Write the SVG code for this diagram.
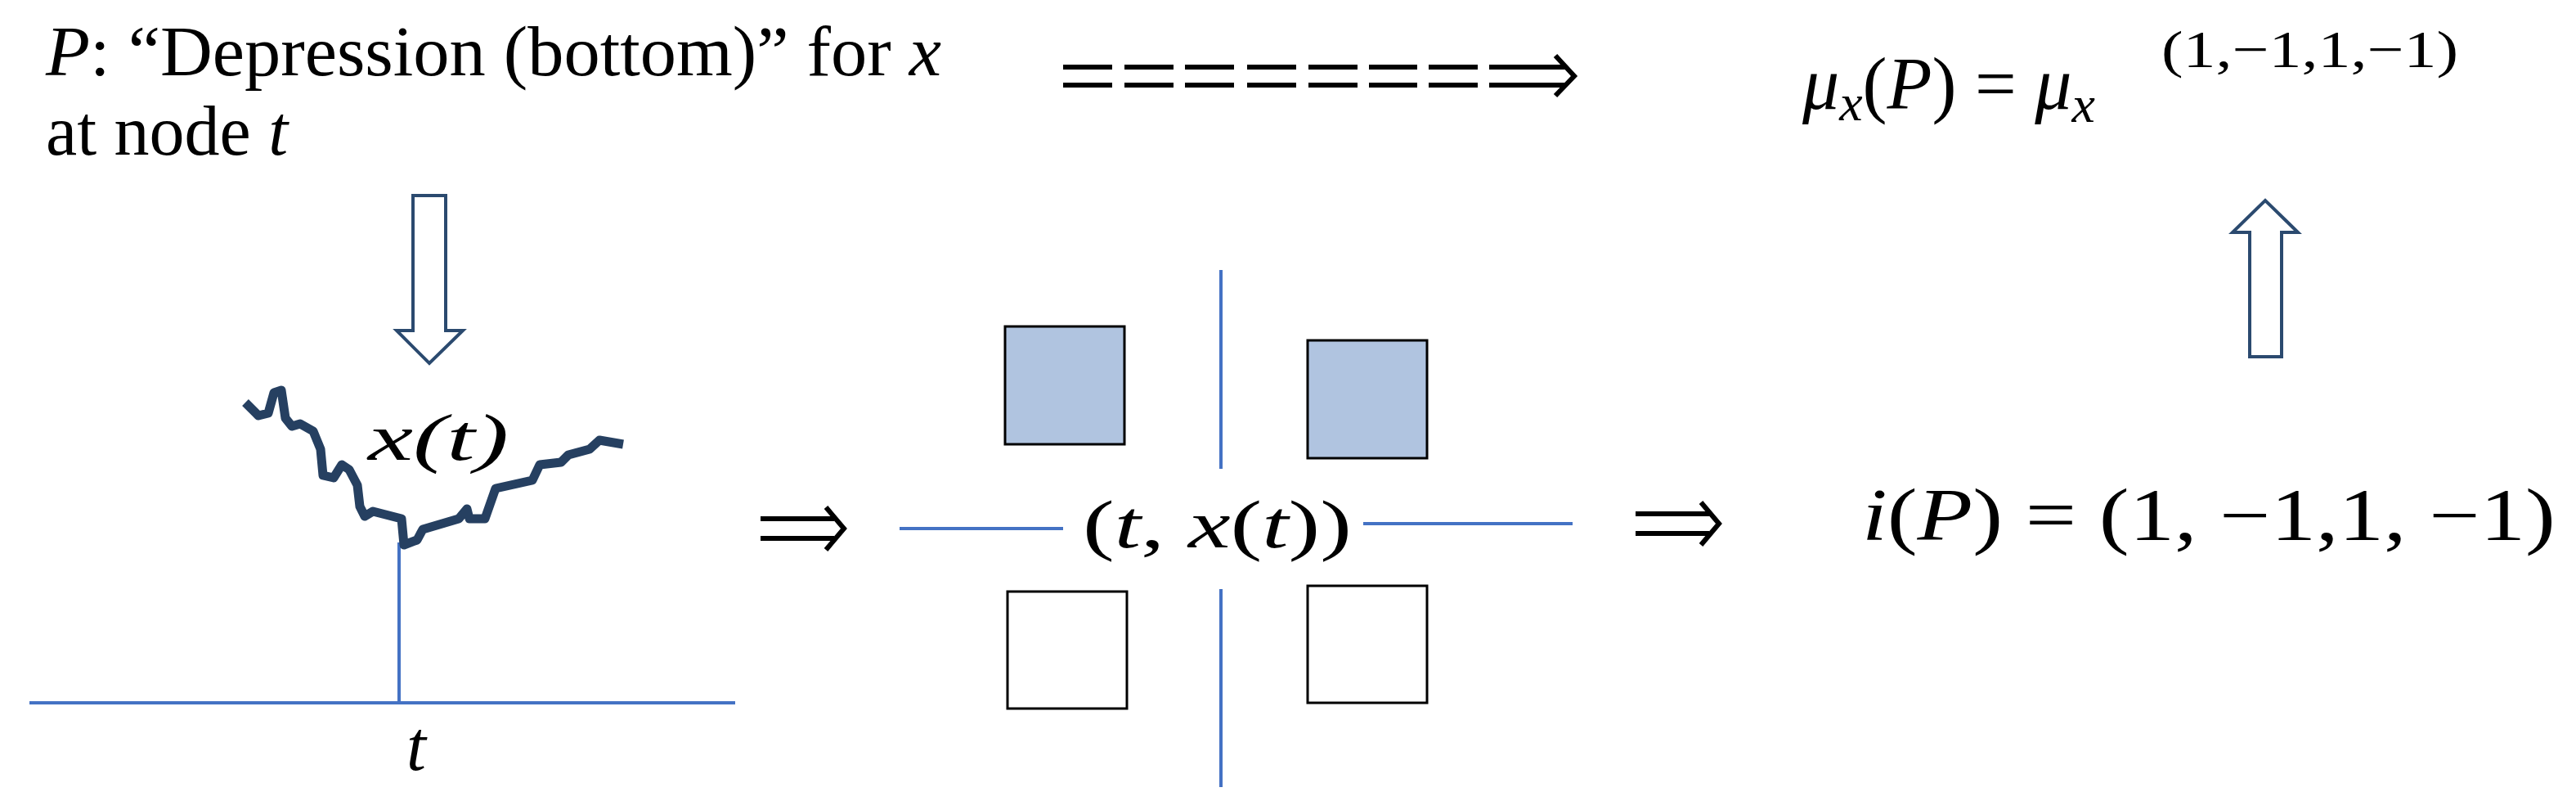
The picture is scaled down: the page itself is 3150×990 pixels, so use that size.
<svg xmlns="http://www.w3.org/2000/svg" width="3150" height="990" viewBox="0 0 3150 990">
<style>
.t{font-family:"Liberation Serif","DejaVu Serif",serif;fill:#000}
.m{font-family:"DejaVu Serif","Liberation Serif",serif;fill:#000}
.i{font-style:italic}
.bl{stroke:#4472C4;stroke-width:4;fill:none}
.blk{stroke:#000;stroke-width:6;fill:none}
.box{stroke:#000;stroke-width:3}
.fat{fill:#fff;stroke:#2B4A6F;stroke-width:4}
</style>
<rect width="3150" height="990" fill="#fff"/>
<g id="label-P">
<text class="t" x="56" y="92" font-size="86" textLength="1095" lengthAdjust="spacingAndGlyphs"><tspan class="i">P</tspan>: “Depression (bottom)” for <tspan class="i">x</tspan></text>
<text class="t" x="56" y="189" font-size="86">at node <tspan class="i">t</tspan></text>
</g>
<g id="path-node">
<line class="bl" x1="36" y1="859" x2="899" y2="859"/>
<line class="bl" x1="488" y1="663" x2="488" y2="859"/>
<polyline points="300,492 316,508 328,505 335,480 344,477 349,511 357,521 367,518 383,527 392,549 395,581 408,584 418,568 427,574 437,593 440,619 446,631 456,625 491,634 494,666 510,660 517,647 561,634 571,622 574,634 593,634 606,597 651,587 660,568 686,565 695,556 721,549 733,538 762,543" fill="none" stroke="#264061" stroke-width="11" stroke-linejoin="round"/>
<text class="t i" x="450" y="562" font-size="80" textLength="172" lengthAdjust="spacingAndGlyphs">x(t)</text>
<text class="t i" x="497" y="941" font-size="86">t</text>
</g>
<g id="quadrants">
<line class="bl" x1="1100" y1="646" x2="1300" y2="646"/>
<line class="bl" x1="1667" y1="640" x2="1923" y2="640"/>
<line class="bl" x1="1493" y1="330" x2="1493" y2="573"/>
<line class="bl" x1="1493" y1="720" x2="1493" y2="962"/>
<rect class="box" x="1229" y="399" width="146" height="144" fill="#B0C4E0"/>
<rect class="box" x="1599" y="416" width="146" height="144" fill="#B0C4E0"/>
<rect class="box" x="1232" y="723" width="146" height="143" fill="#fff"/>
<rect class="box" x="1599" y="716" width="146" height="143" fill="#fff"/>
<text class="t" x="1324" y="669" font-size="82" textLength="329" lengthAdjust="spacingAndGlyphs">(<tspan class="i">t</tspan>, <tspan class="i">x</tspan>(<tspan class="i">t</tspan>))</text>
</g>
<g id="index">
<text class="t" x="2277" y="660" font-size="90" textLength="848" lengthAdjust="spacingAndGlyphs"><tspan class="i">i</tspan>(<tspan class="i">P</tspan>) = (1, −1,1, −1)</text>
</g>
<g id="measure">
<text class="t" x="2204" y="133" font-size="90"><tspan class="i">μ</tspan><tspan class="i" font-size="64" dy="14">x</tspan><tspan dy="-14">(</tspan><tspan class="i">P</tspan>) = <tspan class="i">μ</tspan><tspan class="i" font-size="64" dy="16">x</tspan></text>
<text class="t" x="2643" y="82" font-size="64" textLength="363" lengthAdjust="spacingAndGlyphs">(1,−1,1,−1)</text>
</g>
<g id="connectors">
<path class="fat" d="M505,239 H545 V404 H566 L525,444 L485,404 H505 Z"/>
<path class="fat" d="M2751,436 H2790 V284 H2810 L2770,245 L2730,284 H2751 Z"/>
<g class="blk">
<path d="M930,634 H1020 M930,658 H1020 M1010,620 L1032,646 L1010,672"/>
<path d="M2000,628 H2090 M2000,652 H2090 M2080,614 L2102,640 L2080,666"/>
<path d="M1300,82 H1360 M1375,82 H1435 M1449,82 H1509 M1525,82 H1585 M1600,82 H1660 M1674,82 H1733 M1747,82 H1807 M1821,82 H1915"/>
<path d="M1300,104 H1360 M1375,104 H1435 M1449,104 H1509 M1525,104 H1585 M1600,104 H1660 M1674,104 H1733 M1747,104 H1807 M1821,104 H1915"/>
<path d="M1902,68 L1925,93 L1902,117"/>
</g>
</g>
</svg>
